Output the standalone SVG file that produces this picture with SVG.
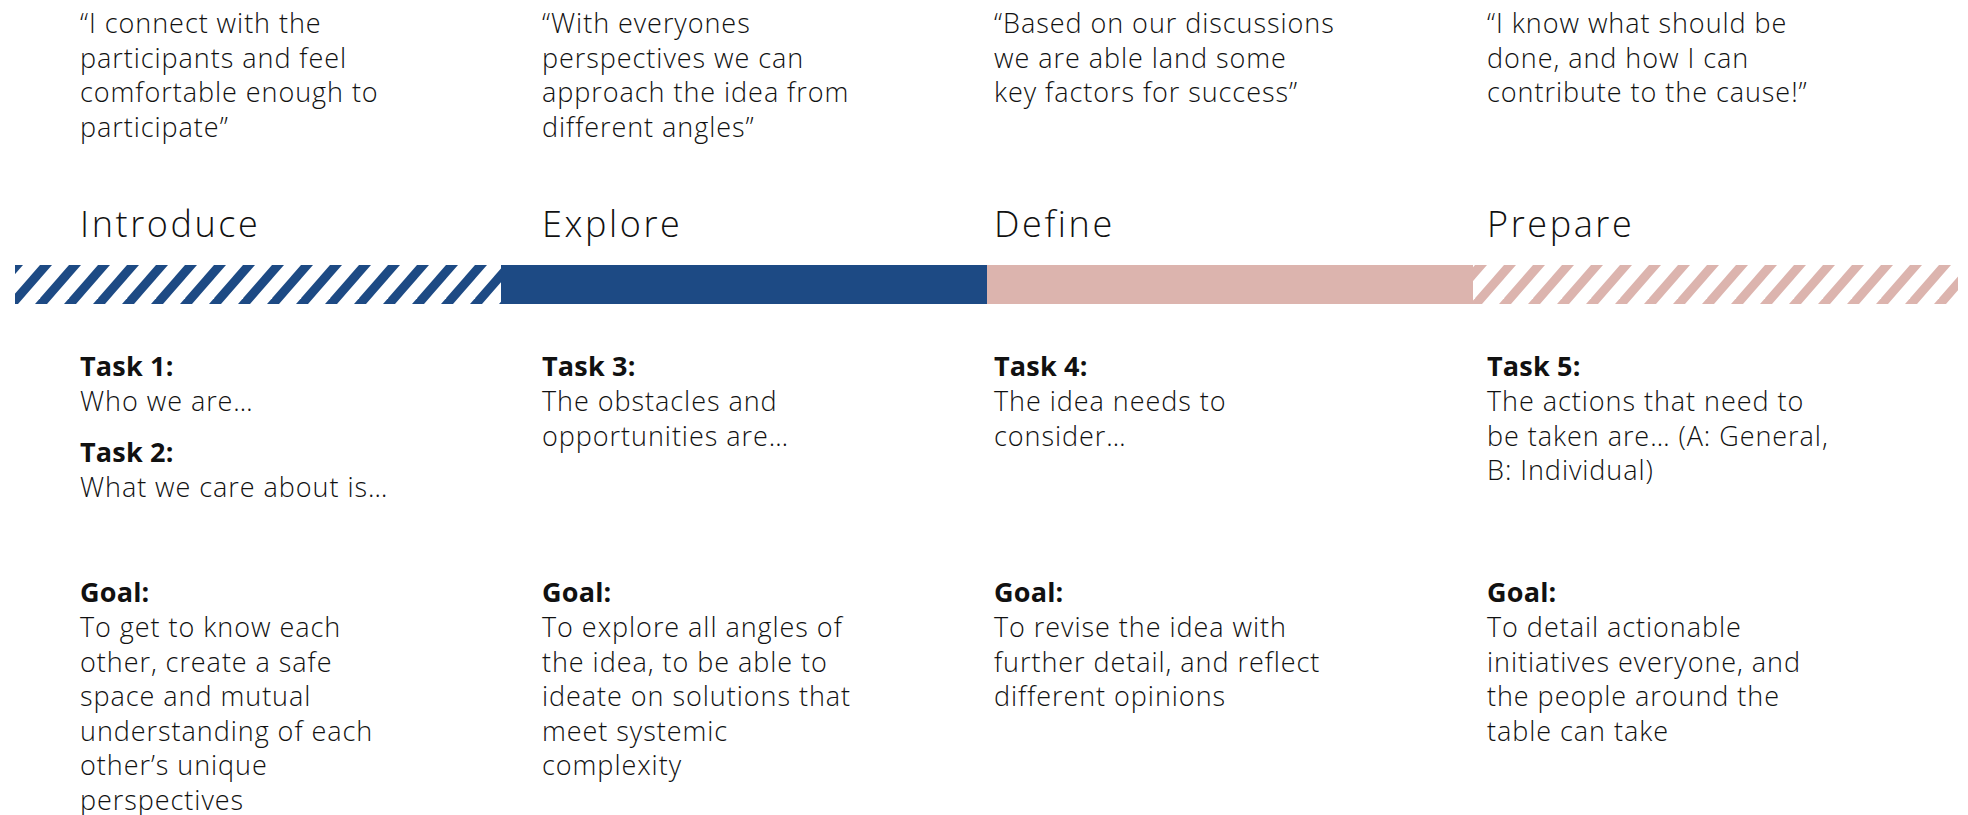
<svg xmlns="http://www.w3.org/2000/svg" width="1968" height="815" viewBox="0 0 1968 815">
  <style>
    text { font-family: "Open Sans", "Liberation Sans", sans-serif; fill: #111; }
    .q { font-size: 27px; letter-spacing: 0.95px; font-weight: 350; }
    .t { font-size: 36px; letter-spacing: 2.6px; font-weight: 300; }
    .b { font-size: 27px; letter-spacing: 0.95px; font-weight: 350; }
    .h { font-size: 27px; font-weight: 700; letter-spacing: 0.2px; }
  </style>
  <defs>
    <pattern id="stripeBlue" patternUnits="userSpaceOnUse" x="11" y="265" width="29" height="39">
      <polygon points="0,0 12,0 -22,39 -34,39" fill="#1d4a84"/>
      <polygon points="29,0 41,0 7,39 -5,39" fill="#1d4a84"/>
      <polygon points="58,0 70,0 36,39 24,39" fill="#1d4a84"/>
    </pattern>
    <pattern id="stripePink" patternUnits="userSpaceOnUse" x="25" y="265" width="29" height="39">
      <polygon points="0,0 12,0 -22,39 -34,39" fill="#dcb4ae"/>
      <polygon points="29,0 41,0 7,39 -5,39" fill="#dcb4ae"/>
      <polygon points="58,0 70,0 36,39 24,39" fill="#dcb4ae"/>
    </pattern>
  </defs>
  <rect width="1968" height="815" fill="#ffffff"/>

  <g id="bar">
    <rect x="15" y="265" width="486" height="39" fill="url(#stripeBlue)"/>
    <rect x="501" y="265" width="486" height="39" fill="#1d4a84"/>
    <rect x="987" y="265" width="486" height="39" fill="#dcb4ae"/>
    <rect x="1473" y="265" width="485" height="39" fill="url(#stripePink)"/>
  </g>

  <g id="introduce">
    <text class="q" x="80" y="33">“I connect with the</text>
    <text class="q" x="80" y="67.5">participants and feel</text>
    <text class="q" x="80" y="102">comfortable enough to</text>
    <text class="q" x="80" y="136.5">participate”</text>
    <text class="t" x="80" y="237">Introduce</text>
    <text class="h" x="80" y="376">Task 1:</text>
    <text class="b" x="80" y="411">Who we are…</text>
    <text class="h" x="80" y="462">Task 2:</text>
    <text class="b" x="80" y="497">What we care about is…</text>
    <text class="h" x="80" y="602">Goal:</text>
    <text class="b" x="80" y="637">To get to know each</text>
    <text class="b" x="80" y="671.5">other, create a safe</text>
    <text class="b" x="80" y="706">space and mutual</text>
    <text class="b" x="80" y="740.5">understanding of each</text>
    <text class="b" x="80" y="775">other’s unique</text>
    <text class="b" x="80" y="809.5">perspectives</text>
  </g>

  <g id="explore">
    <text class="q" x="542" y="33">“With everyones</text>
    <text class="q" x="542" y="67.5">perspectives we can</text>
    <text class="q" x="542" y="102">approach the idea from</text>
    <text class="q" x="542" y="136.5">different angles”</text>
    <text class="t" x="542" y="237">Explore</text>
    <text class="h" x="542" y="376">Task 3:</text>
    <text class="b" x="542" y="411">The obstacles and</text>
    <text class="b" x="542" y="445.5">opportunities are…</text>
    <text class="h" x="542" y="602">Goal:</text>
    <text class="b" x="542" y="637">To explore all angles of</text>
    <text class="b" x="542" y="671.5">the idea, to be able to</text>
    <text class="b" x="542" y="706">ideate on solutions that</text>
    <text class="b" x="542" y="740.5">meet systemic</text>
    <text class="b" x="542" y="775">complexity</text>
  </g>

  <g id="define">
    <text class="q" x="994" y="33">“Based on our discussions</text>
    <text class="q" x="994" y="67.5">we are able land some</text>
    <text class="q" x="994" y="102">key factors for success”</text>
    <text class="t" x="994" y="237">Define</text>
    <text class="h" x="994" y="376">Task 4:</text>
    <text class="b" x="994" y="411">The idea needs to</text>
    <text class="b" x="994" y="445.5">consider…</text>
    <text class="h" x="994" y="602">Goal:</text>
    <text class="b" x="994" y="637">To revise the idea with</text>
    <text class="b" x="994" y="671.5">further detail, and reflect</text>
    <text class="b" x="994" y="706">different opinions</text>
  </g>

  <g id="prepare">
    <text class="q" x="1487" y="33">“I know what should be</text>
    <text class="q" x="1487" y="67.5">done, and how I can</text>
    <text class="q" x="1487" y="102">contribute to the cause!”</text>
    <text class="t" x="1487" y="237">Prepare</text>
    <text class="h" x="1487" y="376">Task 5:</text>
    <text class="b" x="1487" y="411">The actions that need to</text>
    <text class="b" x="1487" y="445.5">be taken are… (A: General,</text>
    <text class="b" x="1487" y="480">B: Individual)</text>
    <text class="h" x="1487" y="602">Goal:</text>
    <text class="b" x="1487" y="637">To detail actionable</text>
    <text class="b" x="1487" y="671.5">initiatives everyone, and</text>
    <text class="b" x="1487" y="706">the people around the</text>
    <text class="b" x="1487" y="740.5">table can take</text>
  </g>
</svg>
